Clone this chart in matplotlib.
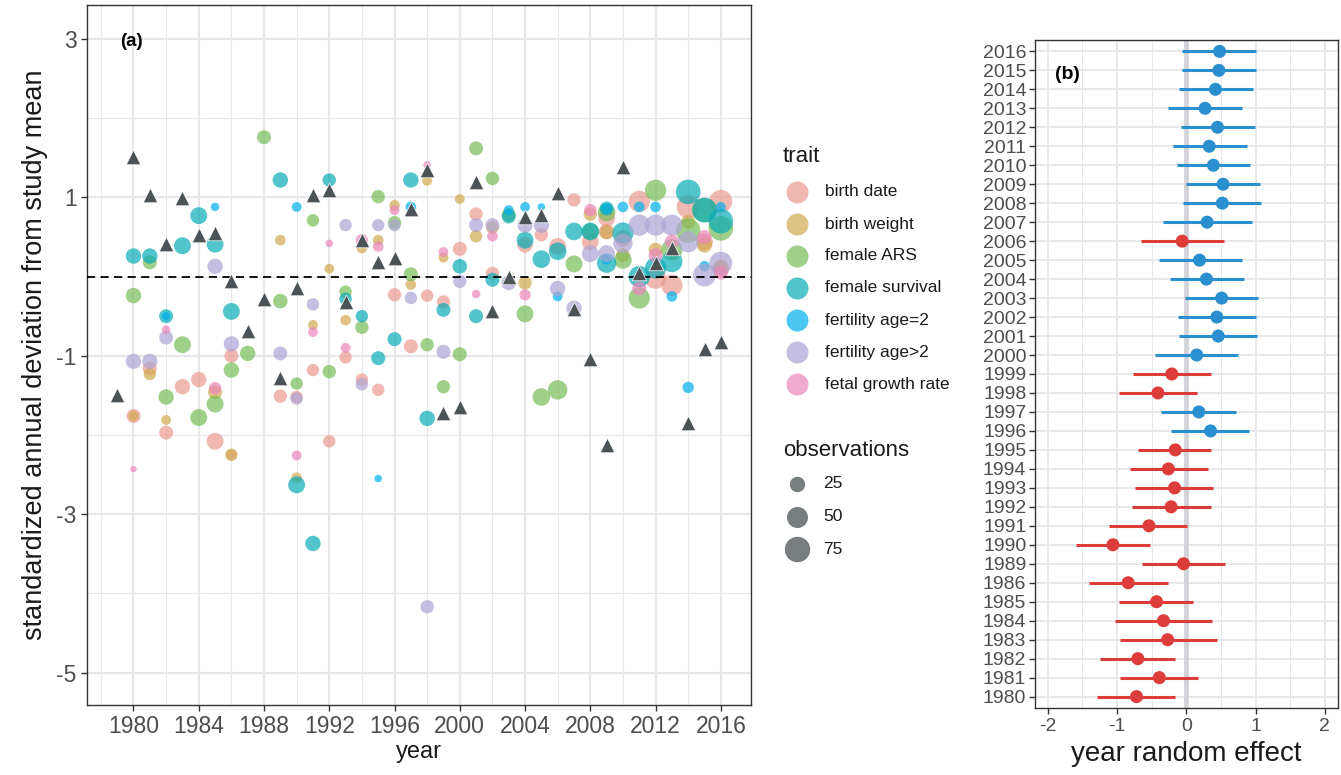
import numpy as np
import matplotlib
matplotlib.use('Agg')
import matplotlib.pyplot as plt
from matplotlib import font_manager

# ---- panel (a): annual deviations per trait, (year, deviation, observations)
birth_date = [(1980, -1.76, 20), (1981, -1.16, 20), (1982, -1.97, 20), (1983, -1.39, 25),
              (1984, -1.30, 25), (1985, -2.08, 31), (1986, -1.00, 20), (1986, -2.25, 10),
              (1989, -1.51, 18), (1990, -1.52, 15), (1991, -1.18, 15), (1992, -2.08, 15),
              (1993, -1.02, 15), (1994, -1.30, 15), (1995, -1.43, 15), (1996, -0.23, 18),
              (1997, -0.88, 20), (1998, -0.24, 15), (1999, -0.32, 18), (2000, 0.35, 20),
              (2001, 0.79, 18), (2002, 0.04, 18), (2004, 0.40, 25), (2005, 0.53, 18),
              (2006, 0.38, 31), (2007, 0.97, 18), (2008, 0.44, 31), (2009, 0.74, 31),
              (2009, 0.57, 25), (2010, 0.48, 31), (2011, 0.95, 51), (2012, -0.02, 51),
              (2013, -0.11, 51), (2014, 0.88, 60), (2015, 0.44, 31), (2016, 0.95, 60),
              (2016, 0.10, 31)]
birth_weight = [(1980, -1.76, 10), (1981, -1.23, 15), (1982, -1.81, 8), (1985, -1.46, 20),
                (1986, -2.25, 15), (1989, 0.46, 10), (1990, -2.54, 10), (1991, -0.61, 8),
                (1992, 0.10, 8), (1993, -0.55, 10), (1994, 0.36, 10), (1995, 0.46, 10),
                (1996, 0.90, 10), (1997, -0.10, 10), (1998, 1.21, 8), (1999, 0.24, 8),
                (2000, 0.98, 8), (2001, 0.51, 15), (2002, 0.62, 15), (2004, -0.08, 18),
                (2008, 0.79, 18), (2009, 0.56, 20), (2010, 0.27, 20), (2012, 0.34, 20),
                (2014, 0.69, 20), (2015, 0.40, 25), (2016, 0.13, 20)]
female_ars = [(1980, -0.24, 25), (1981, 0.18, 20), (1982, -1.52, 25), (1983, -0.86, 31),
              (1984, -1.78, 31), (1985, -1.61, 31), (1986, -1.18, 25), (1987, -0.97, 25),
              (1988, 1.76, 20), (1989, -0.31, 22), (1990, -1.35, 15), (1991, 0.71, 15),
              (1992, -1.20, 18), (1993, -0.19, 15), (1994, -0.64, 18), (1995, 1.01, 18),
              (1996, 0.68, 18), (1997, 0.03, 20), (1998, -0.86, 18), (1999, -1.39, 18),
              (2000, -0.98, 20), (2001, 1.62, 20), (2002, 1.24, 18), (2003, 0.78, 20),
              (2004, -0.47, 31), (2005, -1.52, 34), (2006, -1.43, 42), (2007, 0.16, 31),
              (2008, 0.57, 31), (2009, 0.81, 34), (2010, 0.21, 34), (2011, -0.27, 51),
              (2012, 1.09, 51), (2013, 0.34, 51), (2014, 0.58, 70), (2015, 0.84, 70),
              (2016, 0.61, 70)]
female_survival = [(1980, 0.26, 25), (1981, 0.26, 25), (1982, -0.50, 20), (1983, 0.39, 31),
                   (1984, 0.77, 31), (1985, 0.41, 31), (1986, -0.44, 31), (1989, 1.22, 25),
                   (1990, -2.63, 31), (1991, -3.37, 25), (1992, 1.22, 18), (1993, -0.28, 15),
                   (1994, -0.50, 15), (1995, -1.03, 20), (1996, -0.79, 20), (1997, 1.22, 25),
                   (1998, -1.79, 25), (1999, -0.42, 20), (2000, 0.13, 22), (2001, -0.50, 20),
                   (2002, -0.04, 20), (2003, 0.76, 20), (2004, 0.46, 31), (2005, 0.22, 34),
                   (2006, 0.32, 34), (2007, 0.57, 34), (2008, 0.57, 34), (2009, 0.17, 42),
                   (2009, 0.86, 20), (2010, 0.55, 51), (2011, 0.00, 51), (2012, 0.11, 51),
                   (2013, 0.19, 51), (2014, 1.07, 70), (2015, 0.84, 70), (2016, 0.70, 70)]
fertility_2 = [(1982, -0.50, 5), (1985, 0.88, 5), (1990, 0.88, 8), (1995, -2.55, 3),
               (1997, 0.88, 10), (2003, 0.84, 8), (2004, 0.88, 8), (2005, 0.88, 3),
               (2006, -0.25, 8), (2009, 0.86, 10), (2009, 0.22, 10), (2010, 0.88, 10),
               (2011, 0.88, 10), (2012, 0.88, 10), (2013, -0.25, 10), (2014, -1.40, 12),
               (2015, 0.13, 10), (2016, 0.88, 8)]
fertility_older = [(1980, -1.07, 25), (1981, -1.07, 25), (1982, -0.77, 20), (1985, 0.13, 25),
                   (1986, -0.85, 25), (1989, -0.97, 20), (1990, -1.54, 15), (1991, -0.35, 15),
                   (1993, 0.65, 15), (1994, -1.36, 15), (1995, 0.65, 15), (1996, 0.65, 15),
                   (1997, -0.27, 15), (1998, -4.17, 18), (1999, -0.95, 20), (2000, -0.06, 18),
                   (2001, 0.65, 20), (2002, 0.65, 20), (2003, -0.08, 22), (2004, 0.65, 25),
                   (2005, 0.65, 25), (2006, -0.15, 25), (2007, -0.40, 25), (2008, 0.29, 31),
                   (2009, 0.29, 31), (2010, 0.42, 42), (2011, 0.65, 51), (2012, 0.65, 51),
                   (2013, 0.65, 51), (2014, 0.44, 51), (2015, 0.02, 60), (2016, 0.17, 60)]
fetal_growth = [(1980, -2.43, 1), (1982, -0.67, 5), (1985, -1.41, 15), (1990, -2.26, 8),
                (1991, -0.70, 8), (1992, 0.42, 3), (1993, -0.90, 8), (1994, 0.46, 15),
                (1995, 0.38, 10), (1996, 0.84, 8), (1998, 1.41, 3), (1999, 0.31, 8),
                (2001, -0.22, 5), (2002, 0.51, 10), (2004, -0.23, 12), (2008, 0.84, 15),
                (2011, -0.15, 20), (2012, 0.27, 20), (2013, 0.44, 20), (2015, 0.50, 20),
                (2016, 0.05, 20)]

trait_names = ['birth date', 'birth weight', 'female ARS', 'female survival',
               'fertility age=2', 'fertility age>2', 'fetal growth rate']
trait_data = [birth_date, birth_weight, female_ars, female_survival,
              fertility_2, fertility_older, fetal_growth]
trait_colors = ['#EA9B90', '#D1A94F', '#77BC58', '#08ABB5', '#00B0EC', '#ACA5D3', '#EA86BA']

# yearly mean deviation (triangles)
mean_years = list(range(1979, 2017))
mean_vals = [-1.50, 1.51, 1.03, 0.41, 0.99, 0.53, 0.55, -0.06, -0.69, -0.28,
             -1.28, -0.14, 1.03, 1.09, -0.32, 0.46, 0.18, 0.23, 0.86, 1.35,
             -1.72, -1.65, 1.20, -0.43, 0.00, 0.75, 0.78, 1.05, -0.41, -1.04,
             -2.13, 1.38, 0.04, 0.17, 0.36, -1.85, -0.92, -0.83]

# ---- panel (b): year random effects
re_years = [1980, 1981, 1982, 1983, 1984, 1985, 1986, 1989, 1990, 1991, 1992, 1993,
            1994, 1995, 1996, 1997, 1998, 1999, 2000, 2001, 2002, 2003, 2004, 2005,
            2006, 2007, 2008, 2009, 2010, 2011, 2012, 2013, 2014, 2015, 2016]
re_est = [-0.72, -0.39, -0.70, -0.27, -0.33, -0.43, -0.84, -0.04, -1.06, -0.54, -0.22, -0.17,
          -0.26, -0.16, 0.35, 0.18, -0.41, -0.21, 0.15, 0.46, 0.44, 0.51, 0.29, 0.19,
          -0.06, 0.30, 0.52, 0.53, 0.39, 0.33, 0.45, 0.27, 0.42, 0.47, 0.48]
re_lo = [-1.29, -0.96, -1.24, -0.96, -1.03, -0.97, -1.40, -0.64, -1.59, -1.11, -0.78, -0.74,
         -0.82, -0.70, -0.22, -0.36, -0.97, -0.77, -0.45, -0.11, -0.12, -0.02, -0.24, -0.40,
         -0.66, -0.34, -0.05, -0.01, -0.14, -0.20, -0.08, -0.26, -0.11, -0.07, -0.06]
re_hi = [-0.16, 0.17, -0.17, 0.44, 0.37, 0.10, -0.27, 0.56, -0.52, 0.01, 0.35, 0.39,
         0.31, 0.36, 0.91, 0.71, 0.15, 0.35, 0.75, 1.02, 1.01, 1.04, 0.83, 0.80,
         0.55, 0.95, 1.08, 1.06, 0.92, 0.87, 0.99, 0.81, 0.96, 1.00, 1.01]

installed = {f.name for f in font_manager.fontManager.ttflist}
NARROW = 'Liberation Sans Narrow' if 'Liberation Sans Narrow' in installed else 'Liberation Sans'
plt.rcParams['font.family'] = 'Liberation Sans'
plt.rcParams['axes.unicode_minus'] = False

W, H = 1341, 775
GRID = '#E6E6EB'
TICKC = '#4D4D4D'
SPINE = '#333333'


def obs_area(n):
    # ggplot-like area scaling, diameter in px -> points^2
    d = np.sqrt(40 + 8.2 * (np.asarray(n, dtype=float) - 1))
    return (d * 0.72) ** 2


fig = plt.figure(figsize=(W / 100, H / 100), dpi=100)

# ---------------- panel (a)
ax = fig.add_axes([87 / W, 1 - 705 / H, 664 / W, 700 / H])
for pts, col in zip(trait_data, trait_colors):
    yrs, vals, ns = zip(*pts)
    ax.scatter(yrs, vals, s=obs_area(ns), color=col, alpha=0.7, linewidths=0, zorder=3)
ax.axhline(0, color='black', lw=1.3, ls=(0, (4.5, 3)), zorder=4)
ax.scatter(mean_years, mean_vals, marker='^', s=110, color='#4B5356',
           edgecolors='white', linewidths=0.5, zorder=5)

ax.set_xlim(1977.15, 2017.85)
ax.set_ylim(-5.41, 3.43)
ax.set_xticks(range(1980, 2017, 4))
ax.set_xticks(range(1978, 2017, 4), minor=True)
ax.set_yticks([-5, -3, -1, 1, 3])
ax.set_yticks([-4, -2, 0, 2], minor=True)
ax.grid(True, which='major', color=GRID, lw=1.5, zorder=0)
ax.grid(True, which='minor', color=GRID, lw=0.8, zorder=0)
ax.set_axisbelow(True)
ax.tick_params(which='major', length=4, width=1, color=SPINE, labelcolor=TICKC, labelsize=16.5)
ax.tick_params(which='minor', length=0)
for lab in ax.get_xticklabels() + ax.get_yticklabels():
    lab.set_fontfamily(NARROW)
for sp in ax.spines.values():
    sp.set_color(SPINE)
    sp.set_linewidth(1.0)
ax.set_xlabel('year', fontsize=17, family=NARROW, color='#1A1A1A', labelpad=2)
ax.set_ylabel('standardized annual deviation from study mean', fontsize=19.5,
              color='#1A1A1A', labelpad=6)
ax.text(0.05, 0.948, '(a)', transform=ax.transAxes, fontsize=13.5, fontweight='bold',
        family=NARROW, va='center', ha='left')

# ---------------- panel (b)
ax2 = fig.add_axes([1034.7 / W, 1 - 708 / H, 303.3 / W, 668 / H])
pos = np.arange(len(re_years))
est = np.array(re_est)
cols = np.where(est > 0, '#2A8FCF', '#DC3D3A')
ax2.axvline(0, color='#D3D3DA', lw=3.5, zorder=1)
ax2.hlines(pos, re_lo, re_hi, colors=cols, lw=2.2, zorder=3)
ax2.scatter(est, pos, s=88, c=cols, linewidths=0, zorder=4)
ax2.set_xlim(-2.19, 2.19)
ax2.set_ylim(-0.6, len(re_years) - 0.4)
ax2.set_yticks(pos)
ax2.set_yticklabels([str(y) for y in re_years])
ax2.set_xticks([-2, -1, 0, 1, 2])
ax2.set_xticks([-1.5, -0.5, 0.5, 1.5], minor=True)
ax2.grid(True, which='major', color=GRID, lw=1.3, zorder=0)
ax2.grid(True, which='minor', axis='x', color=GRID, lw=0.7, zorder=0)
ax2.set_axisbelow(True)
ax2.tick_params(which='major', length=4, width=1, color=SPINE, labelcolor=TICKC, labelsize=14)
ax2.tick_params(axis='y', pad=2)
ax2.tick_params(which='minor', length=0)
for sp in ax2.spines.values():
    sp.set_color(SPINE)
    sp.set_linewidth(1.0)
ax2.set_xlabel('year random effect', fontsize=20, color='#1A1A1A', labelpad=4)
ax2.text(0.067, 0.948, '(b)', transform=ax2.transAxes, fontsize=14, fontweight='bold',
         va='center', ha='left')

# ---------------- legends, laid out in pixel coordinates
lax = fig.add_axes([0, 0, 1, 1])
lax.set_xlim(0, W)
lax.set_ylim(H, 0)
lax.axis('off')
lax.text(783, 157, 'trait', fontsize=16, family=NARROW, va='center', ha='left', color='#1A1A1A')
for i, (name, col) in enumerate(zip(trait_names, trait_colors)):
    yy = 192 + 32 * i
    lax.scatter([797], [yy], s=(22 * 0.72) ** 2, color=col, alpha=0.7, linewidths=0)
    lax.text(825, yy, name, fontsize=12.5, family=NARROW, va='center', ha='left', color='#1A1A1A')

lax.text(783, 451, 'observations', fontsize=16, family=NARROW, va='center', ha='left',
         color='#1A1A1A')
for i, n in enumerate([25, 50, 75]):
    yy = 484 + 32.5 * i
    lax.scatter([797], [yy], s=obs_area(n), color='#4B5356', alpha=0.75, linewidths=0)
    lax.text(823, yy, str(n), fontsize=12.5, family=NARROW, va='center', ha='left', color='#1A1A1A')

fig.savefig('out.png', dpi=100)
